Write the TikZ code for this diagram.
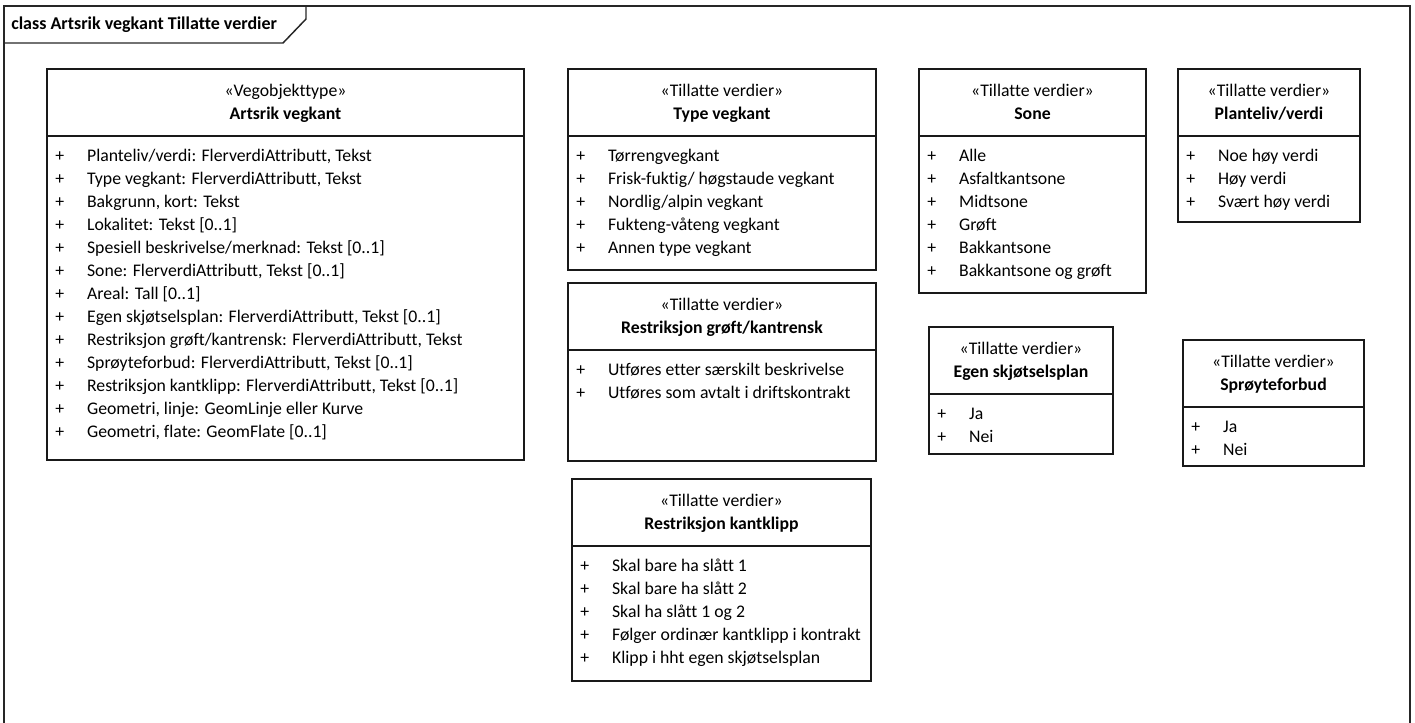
\documentclass[tikz,border=0pt]{standalone}
\usepackage{fontspec}
\setmainfont{Carlito}[Ligatures={NoCommon}]
\usetikzlibrary{calc,fit}
\tikzset{
  px/.style={x=0.75pt,y=-0.75pt},
  frameline/.style={draw=black!85,line width=1.1pt},
  boxline/.style={draw=black!90,line width=1pt},
  stereo/.style={inner sep=0pt,anchor=base,font=\fontsize{13.3}{15}\selectfont},
  ctitle/.style={inner sep=0pt,anchor=base,font=\fontsize{13.3}{15}\selectfont\bfseries},
  plus/.style={inner sep=0pt,anchor=base,font=\fontsize{13.3}{15}\selectfont},
  item/.style={inner sep=0pt,anchor=base west,font=\fontsize{13.3}{15}\selectfont},
}
% #1 name, #2 left, #3 top, #4 right, #5 bottom, #6 title, #7 stereotype
\newcommand\umlclass[7]{%
  \coordinate (#1-nw) at (#2,#3);
  \coordinate (#1-se) at (#4,#5);
  \node[fit=(#1-nw)(#1-se),inner sep=0pt,boxline,fill=white] (#1) {};
  \draw[boxline] ($(#1.north west)+(0,67.5)$) -- ($(#1.north east)+(0,67.5)$);
  \node[stereo] (#1-st) at ($(#1.north)+(0,28)$) {«#7»};
  \node[ctitle] (#1-ti) at ($(#1.north)+(0,51)$) {#6};
}
% #1 name, #2 index, #3 text
\newcommand\umlitem[3]{%
  \node[plus] (#1-p#2) at ($(#1.north west)+(13.5,93.5+23*#2-23)$) {+};
  \node[item] (#1-a#2) at ($(#1.north west)+(40.5,93.5+23*#2-23)$) {#3};
}
\begin{document}
\begin{tikzpicture}[px]
\useasboundingbox (0,0) rectangle (1415,722);
% frame
\draw[frameline] (4,740) -- (4,6) -- (1410,6) -- (1410,740);
\draw[frameline] (4,43) -- (283,43) -- (306,19) -- (306,6);
\node[anchor=base west,inner sep=0pt,font=\fontsize{13.5}{15}\selectfont\bfseries] (frametitle) at (11,29) {class Artsrik vegkant Tillatte verdier};

% Artsrik vegkant
\umlclass{art}{47}{69}{524}{460}{Artsrik vegkant}{Vegobjekttype}
\umlitem{art}{1}{Planteliv/verdi: FlerverdiAttributt, Tekst}
\umlitem{art}{2}{Type vegkant: FlerverdiAttributt, Tekst}
\umlitem{art}{3}{Bakgrunn, kort: Tekst}
\umlitem{art}{4}{Lokalitet: Tekst [0..1]}
\umlitem{art}{5}{Spesiell beskrivelse/merknad: Tekst [0..1]}
\umlitem{art}{6}{Sone: FlerverdiAttributt, Tekst [0..1]}
\umlitem{art}{7}{Areal: Tall [0..1]}
\umlitem{art}{8}{Egen skjøtselsplan: FlerverdiAttributt, Tekst [0..1]}
\umlitem{art}{9}{Restriksjon grøft/kantrensk: FlerverdiAttributt, Tekst}
\umlitem{art}{10}{Sprøyteforbud: FlerverdiAttributt, Tekst [0..1]}
\umlitem{art}{11}{Restriksjon kantklipp: FlerverdiAttributt, Tekst [0..1]}
\umlitem{art}{12}{Geometri, linje: GeomLinje eller Kurve}
\umlitem{art}{13}{Geometri, flate: GeomFlate [0..1]}

% Type vegkant
\umlclass{typ}{568}{69}{876}{270}{Type vegkant}{Tillatte verdier}
\umlitem{typ}{1}{Tørrengvegkant}
\umlitem{typ}{2}{Frisk-fuktig/ høgstaude vegkant}
\umlitem{typ}{3}{Nordlig/alpin vegkant}
\umlitem{typ}{4}{Fukteng-våteng vegkant}
\umlitem{typ}{5}{Annen type vegkant}

% Restriksjon grøft/kantrensk
\umlclass{rgk}{568}{283}{876}{461}{Restriksjon grøft/kantrensk}{Tillatte verdier}
\umlitem{rgk}{1}{Utføres etter særskilt beskrivelse}
\umlitem{rgk}{2}{Utføres som avtalt i driftskontrakt}

% Restriksjon kantklipp
\umlclass{rkk}{572}{479}{871}{681}{Restriksjon kantklipp}{Tillatte verdier}
\umlitem{rkk}{1}{Skal bare ha slått 1}
\umlitem{rkk}{2}{Skal bare ha slått 2}
\umlitem{rkk}{3}{Skal ha slått 1 og 2}
\umlitem{rkk}{4}{Følger ordinær kantklipp i kontrakt}
\umlitem{rkk}{5}{Klipp i hht egen skjøtselsplan}

% Sone
\umlclass{son}{919}{69}{1146}{293}{Sone}{Tillatte verdier}
\umlitem{son}{1}{Alle}
\umlitem{son}{2}{Asfaltkantsone}
\umlitem{son}{3}{Midtsone}
\umlitem{son}{4}{Grøft}
\umlitem{son}{5}{Bakkantsone}
\umlitem{son}{6}{Bakkantsone og grøft}

% Planteliv/verdi
\umlclass{pla}{1178}{69}{1360}{222}{Planteliv/verdi}{Tillatte verdier}
\umlitem{pla}{1}{Noe høy verdi}
\umlitem{pla}{2}{Høy verdi}
\umlitem{pla}{3}{Svært høy verdi}

% Egen skjøtselsplan
\umlclass{egs}{929}{327}{1113}{454}{Egen skjøtselsplan}{Tillatte verdier}
\umlitem{egs}{1}{Ja}
\umlitem{egs}{2}{Nei}

% Sprøyteforbud
\umlclass{spr}{1183}{340}{1364}{466}{Sprøyteforbud}{Tillatte verdier}
\umlitem{spr}{1}{Ja}
\umlitem{spr}{2}{Nei}
\end{tikzpicture}
\end{document}
